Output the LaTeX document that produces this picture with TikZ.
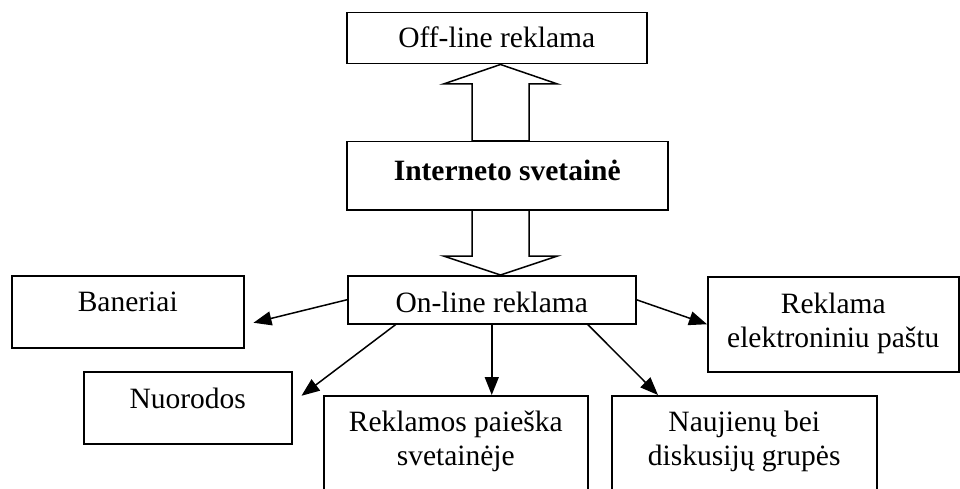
\documentclass[tikz,border=0pt]{standalone}
\usepackage{fontspec}
\setmainfont{Liberation Serif}
\usetikzlibrary{arrows.meta}

\tikzset{
  box/.style={draw, line width=1.5pt, rectangle, inner sep=0pt, anchor=north west},
  txt/.style={anchor=north, inner sep=0pt, align=center,
    font=\fontsize{29.5}{33.5}\selectfont},
  arr/.style={line width=1.5pt, -{Triangle[length=18pt,width=14pt]}},
  blockarrow/.style={line width=1.5pt, line join=miter},
}

\begin{document}
\begin{tikzpicture}[x=1pt, y=-1pt]
			\useasboundingbox (0,0) rectangle (960,489);
			\clip (0,0) rectangle (960,489);
			% boxes
			\node[box, minimum width=300, minimum height=51] (off) at (346,12) {};
			\node[box, minimum width=321, minimum height=68] (int) at (346,141) {};
			\node[box, minimum width=288, minimum height=48] (on) at (347,275) {};
			\node[box, minimum width=232, minimum height=72] (ban) at (11,275) {};
			\node[box, minimum width=208, minimum height=72] (nuo) at (83,371) {};
			\node[box, minimum width=264, minimum height=110] (rek) at (323,395) {};
			\node[box, minimum width=265, minimum height=110] (nau) at (611,395) {};
			\node[box, minimum width=251, minimum height=95] (el) at (707,276) {};
			% texts
			\node[txt] (offtxt) at ([yshift=-15pt]off.north) {Off-line reklama};
			\node[txt] (inttxt) at ([yshift=-19pt]int.north) {\bfseries Interneto svetain\.e};
			\node[txt] (ontxt) at ([yshift=-17pt]on.north) {On-line reklama};
			\node[txt] (bantxt) at ([yshift=-17pt]ban.north) {Baneriai};
			\node[txt] (nuotxt) at ([yshift=-17pt]nuo.north) {Nuorodos};
			\node[txt] (rektxt) at ([yshift=-16pt]rek.north) {Reklamos paieška\\svetainėje};
			\node[txt] (nautxt) at ([yshift=-16pt]nau.north) {Naujienų bei\\diskusijų grupės};
			\node[txt] (eltxt) at ([yshift=-17pt]el.north) {Reklama\\elektroniniu paštu};
			% block arrows
			\coordinate (ax) at (500.5,0);
			\coordinate (al) at (472,0);
			\coordinate (ar) at (529,0);
			\coordinate (hl) at (443.5,0);
			\coordinate (hr) at (557.5,0);
			\draw[blockarrow] (ax |- off.south) -- (hr |- 0,84) -- (ar |- 0,84) -- (ar |- int.north)
				-- (al |- int.north) -- (al |- 0,84) -- (hl |- 0,84) -- cycle;
			\draw[blockarrow] (al |- int.south) -- (al |- 0,256) -- (hl |- 0,256) -- (ax |- on.north)
				-- (hr |- 0,256) -- (ar |- 0,256) -- (ar |- int.south);
			% arrows
			\draw[arr] (on.west) -- ([shift={(9,11)}]ban.east);
			\draw[arr] ([xshift=-96pt]on.south) -- ([shift={(9,-12)}]nuo.east);
			\draw[arr] (on.south) -- (on.south |- rek.north);
			\draw[arr] ([xshift=96pt]on.south) -- ([xshift=47pt]nau.north west);
			\draw[arr] (on.east) -- (el.west);
		\end{tikzpicture}
\end{document}
